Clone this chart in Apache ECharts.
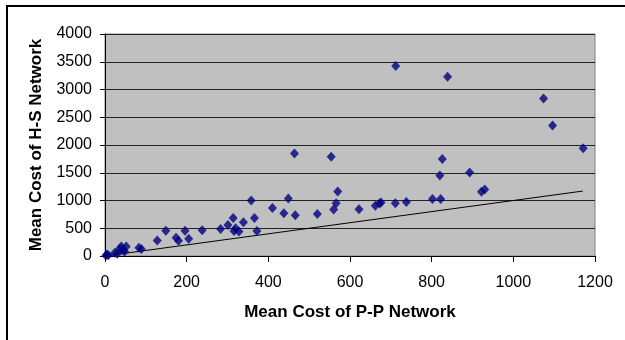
<!DOCTYPE html>
<html>
<head>
<meta charset="utf-8">
<script src="https://cdn.jsdelivr.net/npm/echarts@6/dist/echarts.min.js"></script>
<style>
  html, body { margin: 0; padding: 0; background: #fff; }
  #chart { width: 625px; height: 340px; }
</style>
</head>
<body>
<div id="chart"></div>
<script>
// mean cost of P-P network (x) vs H-S network (y)
var ppCost = [2, 5, 8, 24, 30, 36, 40, 44, 52, 48, 83, 89, 128, 149, 174, 180, 196, 205, 238, 283,
  301, 314, 316, 320, 328, 339, 358, 366, 372, 410, 438, 449, 466, 464, 520, 554, 560, 566, 570,
  622, 662, 672, 676, 711, 712, 738, 802, 820, 822, 826, 839, 893, 922, 930, 1074, 1096, 1171];
var hsCost = [10, 25, 15, 60, 40, 130, 170, 110, 170, 80, 150, 126, 280, 456, 330, 276, 456, 310, 466, 486,
  558, 686, 450, 500, 440, 606, 1000, 686, 452, 864, 770, 1035, 736, 1845, 756, 1790, 836, 950, 1160,
  842, 905, 945, 965, 950, 3424, 972, 1025, 1452, 1025, 1750, 3230, 1506, 1157, 1200, 2840, 2350, 1940];
// reference line y = x
var refLineX = [0, 1170];
var refLineY = [0, 1170];

var points = [];
ppCost.map(function (x, i) {
    points.push([x, hsCost[i]])
})
var linePts = refLineX.map(function (x, i) { return [x, refLineY[i]] })

var myChart = echarts.init(document.getElementById('chart'));
var labelFont = { fontFamily: 'Liberation Sans, Arial, sans-serif', fontSize: 16, color: '#000' };
var plain = function (v) { return String(v) };

var option = {
    animation: false,
    backgroundColor: '#fff',
    grid: {
        left: 105, right: 30, top: 34, bottom: 84,
        show: true, backgroundColor: '#c0c0c0', borderColor: '#808080', borderWidth: 1
    },
    graphic: [{
        type: 'rect', silent: true,
        shape: { x: 7, y: 6, width: 700, height: 400 },
        style: { fill: 'none', stroke: '#000', lineWidth: 2 }
    }],
    xAxis: {
        type: 'value', min: 0, max: 1200, interval: 200,
        name: 'Mean Cost of P-P Network', nameLocation: 'middle', nameGap: 48,
        nameTextStyle: { fontFamily: 'Liberation Sans, Arial, sans-serif', fontSize: 17, fontWeight: 'bold', color: '#000' },
        axisLine: { show: true, lineStyle: { color: '#000', width: 1 } },
        axisTick: { show: true, inside: false, length: 6, lineStyle: { color: '#000' } },
        axisLabel: Object.assign({ margin: 19, formatter: plain }, labelFont),
        splitLine: { show: false }
    },
    yAxis: {
        type: 'value', min: 0, max: 4000, interval: 500,
        name: 'Mean Cost of H-S Network', nameLocation: 'middle', nameGap: 60,
        nameTextStyle: { fontFamily: 'Liberation Sans, Arial, sans-serif', fontSize: 17, fontWeight: 'bold', color: '#000' },
        axisLine: { show: true, lineStyle: { color: '#000', width: 1 } },
        axisTick: { show: true, inside: false, length: 5, lineStyle: { color: '#000' } },
        axisLabel: Object.assign({ margin: 13, formatter: plain }, labelFont),
        splitLine: { show: true, lineStyle: { color: '#222', width: 1 } }
    },
    series: [
        {
            type: 'line', data: linePts, symbol: 'none',
            lineStyle: { color: '#000', width: 1 }, z: 2
        },
        {
            type: 'scatter', data: points, symbol: 'diamond', symbolSize: [9, 10],
            itemStyle: { color: '#000080' }, z: 3
        }
    ]
};
myChart.setOption(option);
</script>
</body>
</html>
